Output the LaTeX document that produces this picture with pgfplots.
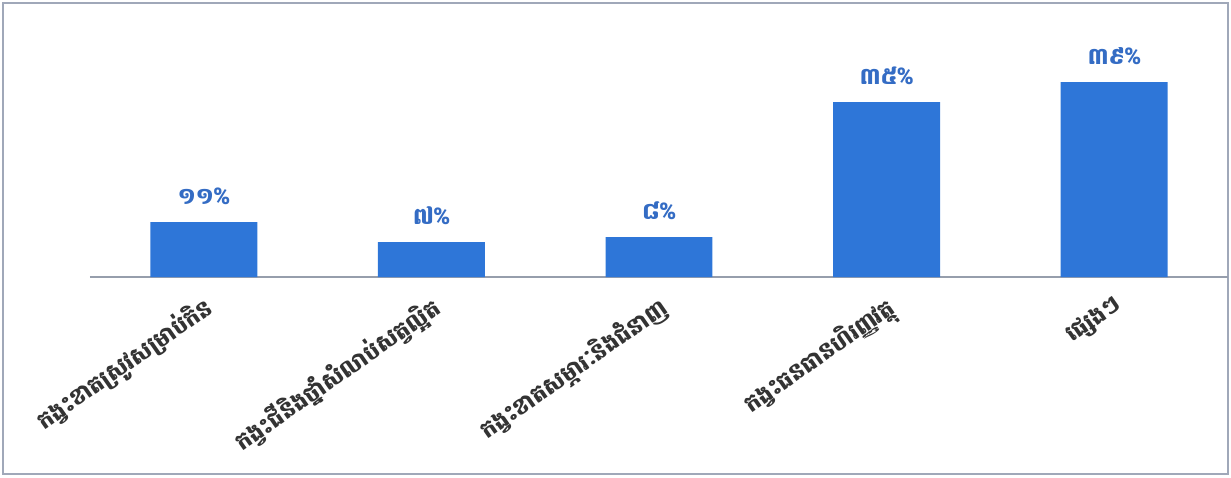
\documentclass[border=0pt]{standalone}
\usepackage{fontspec}
\newfontfamily\khmer[Script=Khmer]{Battambang}
\usepackage{pgfplots}
\pgfplotsset{compat=1.18}
\definecolor{barblue}{RGB}{46,118,216}
\definecolor{lblblue}{RGB}{52,108,196}
\definecolor{axgray}{RGB}{150,158,172}
\definecolor{framegray}{RGB}{160,168,185}
\begin{document}
\begin{tikzpicture}
\useasboundingbox (-45pt,-100pt) rectangle (570.5pt,138.5pt);
\draw[framegray, line width=1.2pt] (-43.5pt,-98.5pt) rectangle (569pt,137pt);
\begin{axis}[
 at={(0,0)}, anchor=south west,
 scale only axis, width=569pt, height=112.5pt,
 xmin=-0.5, xmax=4.5, ymin=0, ymax=45,
 axis x line*=bottom, axis y line=none,
 x axis line style={axgray, line width=1pt, -},
 xtick={0,1,2,3,4},
 xticklabels={កង្វះខាតស្រូវសម្រាប់កិន, កង្វះជីនិងថ្នាំសំលាប់សត្វល្អិត, កង្វះខាតសម្ភារៈនិងជំនាញ, កង្វះធនធានហិរញ្ញវត្ថុ, ផ្សេងៗ},
 major tick length=0pt,
 ytick=\empty,
 xticklabel style={font=\khmer\bfseries\fontsize{11.5}{12}\selectfont, text=black!80, rotate=35, anchor=north east, inner sep=0pt, yshift=-6pt, xshift=-5.5pt},
 ybar, bar width=0.47,
 nodes near coords, point meta=explicit symbolic,
 nodes near coords style={font=\khmer\bfseries\fontsize{11.5}{12}\selectfont, text=lblblue, anchor=south, yshift=5pt},
]
\addplot[fill=barblue, draw=none] coordinates {(0,11) [១១\%] (1,7) [៧\%] (2,8) [៨\%] (3,35) [៣៥\%] (4,39) [៣៩\%]};
\end{axis}
\end{tikzpicture}
\end{document}
